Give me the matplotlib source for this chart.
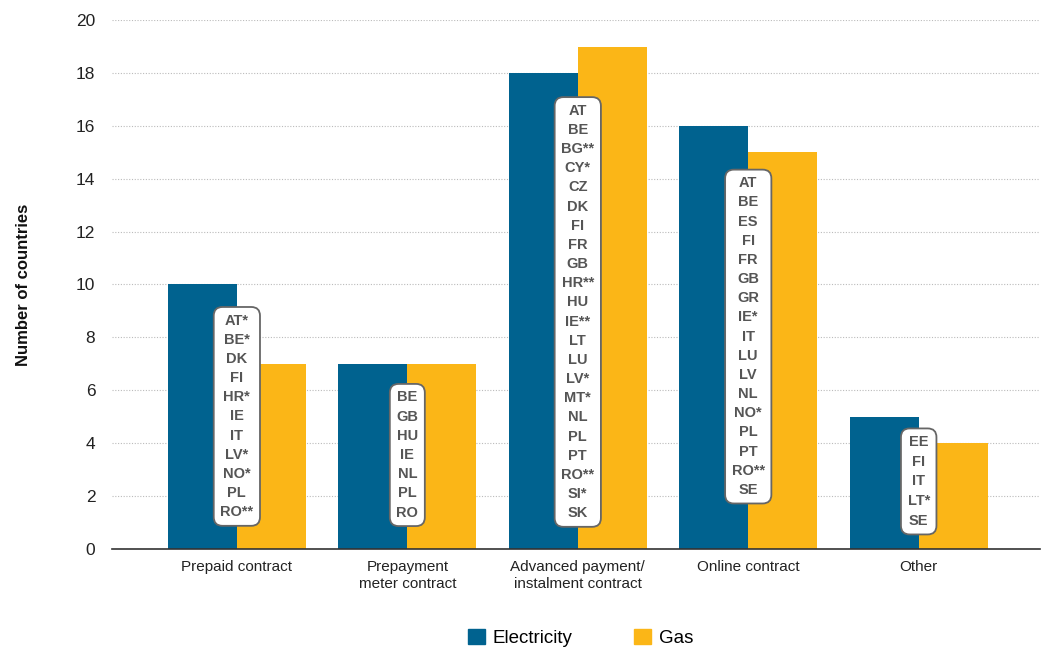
import numpy as np
import matplotlib.pyplot as plt
from matplotlib.patches import Patch

plt.rcParams["font.family"] = ["Liberation Sans", "DejaVu Sans"]

categories = ["Prepaid contract", "Prepayment\nmeter contract",
              "Advanced payment/\ninstalment contract", "Online contract", "Other"]
electricity = [10, 7, 18, 16, 5]
gas = [7, 7, 19, 15, 4]
countries = [
    ["AT*", "BE*", "DK", "FI", "HR*", "IE", "IT", "LV*", "NO*", "PL", "RO**"],
    ["BE", "GB", "HU", "IE", "NL", "PL", "RO"],
    ["AT", "BE", "BG**", "CY*", "CZ", "DK", "FI", "FR", "GB", "HR**", "HU", "IE**",
     "LT", "LU", "LV*", "MT*", "NL", "PL", "PT", "RO**", "SI*", "SK"],
    ["AT", "BE", "ES", "FI", "FR", "GB", "GR", "IE*", "IT", "LU", "LV", "NL", "NO*",
     "PL", "PT", "RO**", "SE"],
    ["EE", "FI", "IT", "LT*", "SE"],
]

# vertical centre of each country box (data units) and its line spacing
box_y = [5.01, 3.55, 8.96, 8.03, 2.55]
box_spacing = [1.47, 1.47, 1.47, 1.47, 1.52]

c_elec = "#00628F"
c_gas = "#FBB617"

fig = plt.figure(figsize=(10.46, 6.48), dpi=100)
ax = fig.add_axes([0.107, 0.153, 0.887, 0.816])

x = np.arange(len(categories))
w = 0.405
ax.bar(x - w / 2, electricity, w, color=c_elec, zorder=2)
ax.bar(x + w / 2, gas, w, color=c_gas, zorder=2)

for i, codes in enumerate(countries):
    ax.text(x[i], box_y[i], "\n".join(codes), ha="center", va="center",
            fontsize=10.5, fontweight="bold", color="#555555",
            linespacing=box_spacing[i], zorder=4,
            bbox=dict(boxstyle="round,pad=0.45,rounding_size=0.6", fc="white",
                      ec="#666666", lw=1.3))

ax.set_xlim(-0.733, 4.71)
ax.set_ylim(0, 20)
ax.set_yticks(range(0, 21, 2))
ax.set_xticks(x)
ax.set_xticklabels(categories, fontsize=11, color="#222222", linespacing=1.3)
ax.tick_params(axis="x", length=0, pad=8)
ax.tick_params(axis="y", length=0, pad=12, labelsize=12.5, labelcolor="#222222")
ax.yaxis.grid(True, linestyle=(0, (1, 1.5)), color="#bbbbbb", lw=0.8, zorder=0)
for s in ["top", "right", "left"]:
    ax.spines[s].set_visible(False)
ax.spines["bottom"].set_color("#333333")
ax.spines["bottom"].set_linewidth(1.2)
ax.set_ylabel("Number of countries", fontsize=12, fontweight="bold",
              color="#111111", labelpad=32)

handles = [Patch(color=c_elec, label="Electricity"), Patch(color=c_gas, label="Gas")]
fig.legend(handles=handles, loc="center", bbox_to_anchor=(0.555, 0.016), ncol=2,
           frameon=False, fontsize=13.5, handlelength=0.9, handleheight=0.9,
           columnspacing=3.3, handletextpad=0.4)

fig.savefig("out.png", dpi=100)
